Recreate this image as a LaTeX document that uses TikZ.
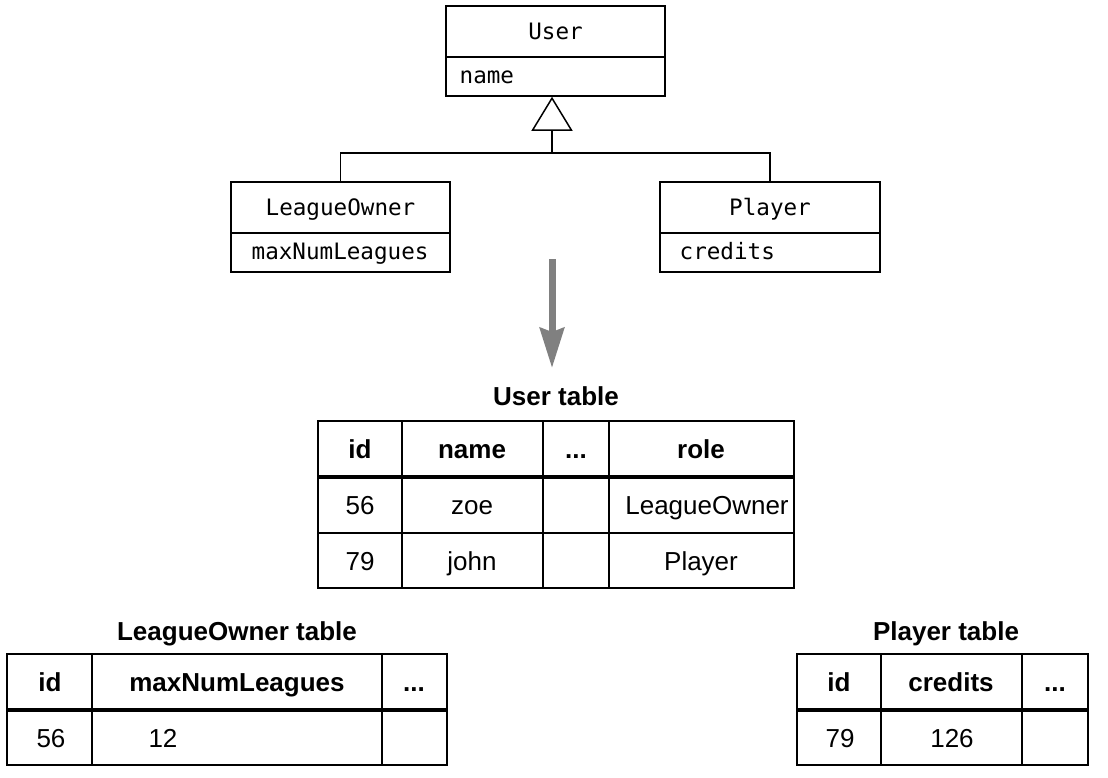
\documentclass[tikz,border=0pt]{standalone}
\usepackage{fontspec}
\setmainfont{Liberation Sans}
\newfontfamily\umlfont{DejaVu Sans Mono}
\usetikzlibrary{arrows.meta,positioning}
\tikzset{
  classname/.style={draw, line width=0.75pt, minimum height=25.5pt, inner sep=0pt, text height=9pt, text depth=1.5pt, font=\umlfont\fontsize{11.3}{13}\selectfont},
  classattr/.style={draw, line width=0.75pt, minimum height=19.5pt, inner sep=0pt},
  attrtext/.style={inner sep=0pt, text height=9pt, text depth=2pt, font=\umlfont\fontsize{11.3}{13}\selectfont},
  tabline/.style={line width=0.75pt},
  headline/.style={line width=2pt},
  headtext/.style={text height=11pt, text depth=1.5pt, font=\fontsize{13}{15}\selectfont\bfseries},
  celltext/.style={text height=11pt, text depth=1.5pt, font=\fontsize{13}{15}\selectfont},
}
\begin{document}
\begin{tikzpicture}[x=0.5pt,y=-0.5pt]
\useasboundingbox (0,0) rectangle (1108,777);
% classes
\node[classname, minimum width=109.5pt] (user) at (555.5,31.5) {User};
\node[classattr, minimum width=109.5pt] (userattr) at (555.5,76.5) {};
\node[attrtext, right=7pt of userattr.west] (username) {name};
\node[classname, minimum width=109.5pt] (lo) at (340.5,207.5) {LeagueOwner};
\node[classattr, minimum width=109.5pt] (loattr) at (340.5,252.5) {};
\node[attrtext, right=10.5pt of loattr.west] (lomax) {maxNumLeagues};
\node[classname, minimum width=110pt] (pl) at (770,207.5) {Player};
\node[classattr, minimum width=110pt] (plattr) at (770,252.5) {};
\node[attrtext, right=10pt of plattr.west] (plcredits) {credits};
% inheritance
\coordinate (bar) at (552,153);
\draw[line width=0.75pt, -{Triangle[open,length=17pt,width=20.5pt]}] (bar) -- (bar |- userattr.south);
\draw[line width=0.75pt] (lo.north) |- (bar) -| (pl.north);
% mapping arrow
\coordinate (maptop) at (552,259);
\coordinate (maptip) at (552,368);
\draw[gray, line width=3.5pt, -{Stealth[length=20pt,width=12pt,inset=2pt]}] (maptop) -- (maptip);
% User table
\node[headtext] (usertitle) at (556,396) {User table};
\draw[tabline] (318,421) rectangle (794,588);
\draw[tabline] (318,533) -- (794,533);
\foreach \x in {402,543,609} \draw[tabline] (\x,421) -- (\x,588);
\draw[headline] (318,477) -- (794,477);
\node[headtext] (ut-id) at (360,449) {id};
\node[headtext] (ut-name) at (472,449) {name};
\node[headtext] (ut-more) at (576,449) {...};
\node[headtext] (ut-role) at (701,449) {role};
\node[celltext] (ut-id1) at (360,505) {56};
\node[celltext] (ut-name1) at (472,505) {zoe};
\node[celltext] (ut-role1) at (707,505) {LeagueOwner};
\node[celltext] (ut-id2) at (360,561) {79};
\node[celltext] (ut-name2) at (472,561) {john};
\node[celltext] (ut-role2) at (701,561) {Player};
% LeagueOwner table
\node[headtext] (lotitle) at (237,631) {LeagueOwner table};
\draw[tabline] (7,654) rectangle (447,765);
\foreach \x in {92,382} \draw[tabline] (\x,654) -- (\x,765);
\draw[headline] (7,710) -- (447,710);
\node[headtext] (lt-id) at (50,682) {id};
\node[headtext] (lt-max) at (237,682) {maxNumLeagues};
\node[headtext] (lt-more) at (414,682) {...};
\node[celltext] (lt-id1) at (51,738) {56};
\node[celltext] (lt-max1) at (163,738) {12};
% Player table
\node[headtext] (pltitle) at (946,631) {Player table};
\draw[tabline] (797,654) rectangle (1088,765);
\foreach \x in {881,1022} \draw[tabline] (\x,654) -- (\x,765);
\draw[headline] (797,710) -- (1088,710);
\node[headtext] (pt-id) at (839,682) {id};
\node[headtext] (pt-credits) at (951,682) {credits};
\node[headtext] (pt-more) at (1055,682) {...};
\node[celltext] (pt-id1) at (840,738) {79};
\node[celltext] (pt-credits1) at (952,738) {126};
\end{tikzpicture}
\end{document}
